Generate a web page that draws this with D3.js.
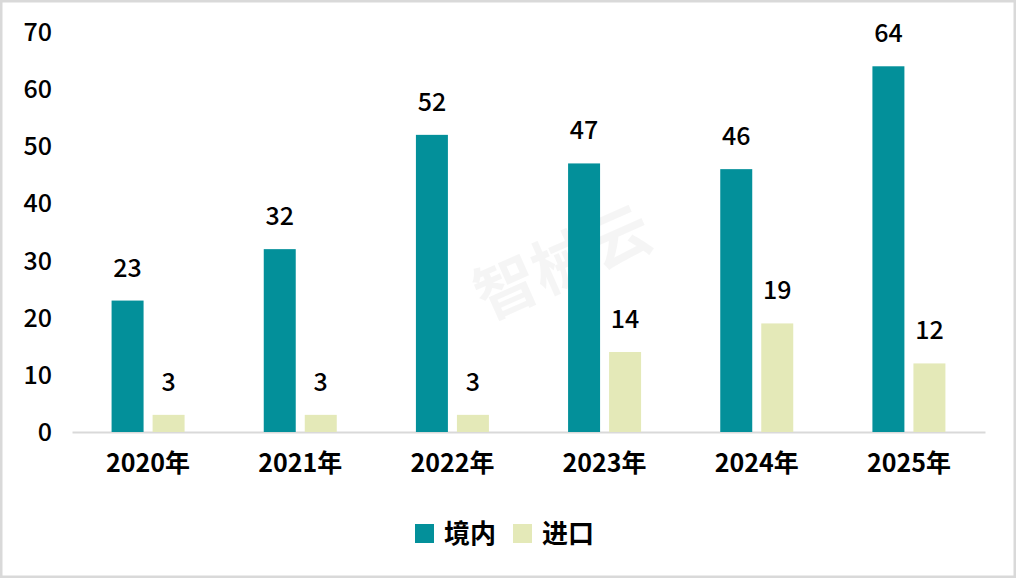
<!DOCTYPE html>
<html>
<head>
  <meta charset="utf-8"><script src="https://d3js.org/d3.v7.min.js"></script>
  <style>
    body { margin: 0; background: white; }
  </style>
</head>

<body>
  <svg id="mychart" width="1016" height="578" style="background: white; display: block"></svg>
</body>
<script>
  const years   = ["2020年", "2021年", "2022年", "2023年", "2024年", "2025年"]
  const series  = ["境内", "进口"]
  const domestic = [23, 32, 52, 47, 46, 64]
  const imported = [3, 3, 3, 14, 19, 12]
  const yTicks  = [0, 10, 20, 30, 40, 50, 60, 70]
  const colors  = ["#03909a", "#e4e9b8"]

  const width = 1016, height = 578
  const margin = ({top: 32, right: 31, bottom: 146, left: 72})

  const data = years.map((year, i) => ({year, values: [domestic[i], imported[i]]}))

  const x = d3.scaleBand()
    .domain(years)
    .range([margin.left, width - margin.right])

  const inner = d3.scaleBand()
    .domain(series)
    .range([x.bandwidth() / 2 - 36.5, x.bandwidth() / 2 + 36.5])
    .paddingInner(0.22)

  const y = d3.scaleLinear()
    .domain([0, 70])
    .range([height - margin.bottom, margin.top])

  const color = d3.scaleOrdinal().domain(series).range(colors)

  const svg = d3.select("#mychart")

  // outer frame
  svg.append("rect")
    .attr("x", 1).attr("y", 1)
    .attr("width", width - 2).attr("height", height - 2)
    .attr("fill", "none")
    .attr("stroke", "#d9d9d9")
    .attr("stroke-width", 3)

  // faint watermark
  svg.append("text")
    .attr("transform", "translate(572,283) rotate(-24)")
    .attr("text-anchor", "middle")
    .attr("font-family", "Noto Sans CJK SC")
    .attr("font-weight", "bold")
    .attr("font-size", 62)
    .attr("fill", "#000")
    .attr("fill-opacity", 0.04)
    .text("智械云")

  // y axis labels
  svg.append("g")
    .attr("transform", `translate(${margin.left - 20},0)`)
    .call(d3.axisLeft(y).tickValues(yTicks).tickSize(0).tickPadding(0))
    .call(g => g.select(".domain").remove())
    .call(g => g.selectAll("text")
      .attr("font-family", "Noto Sans CJK SC")
      .attr("font-weight", 500)
      .attr("font-size", 25)
      .attr("fill", "#000")
      .attr("dy", "0.34em"))

  // x axis
  svg.append("g")
    .attr("transform", `translate(0,${y(0)})`)
    .call(d3.axisBottom(x).tickSize(0).tickPadding(22))
    .call(g => g.select(".domain")
      .attr("stroke", "#d9d9d9")
      .attr("stroke-width", 2))
    .call(g => g.selectAll("text")
      .attr("font-family", "Noto Sans CJK SC")
      .attr("font-weight", "bold")
      .attr("font-size", 25)
      .attr("fill", "#000"))

  const group = svg.append("g")
    .selectAll("g")
    .data(data)
    .join("g")
      .attr("transform", d => `translate(${x(d.year)},0)`)

  const cells = group.selectAll("g")
    .data(d => d.values.map((v, i) => ({key: series[i], value: v})))
    .join("g")

  cells.append("rect")
    .attr("x", d => inner(d.key))
    .attr("y", d => y(d.value))
    .attr("width", inner.bandwidth())
    .attr("height", d => y(0) - y(d.value))
    .attr("fill", d => color(d.key))

  cells.append("text")
    .attr("x", d => inner(d.key) + inner.bandwidth() / 2)
    .attr("y", d => y(d.value) - 24)
    .attr("text-anchor", "middle")
    .attr("font-family", "Noto Sans CJK SC")
    .attr("font-weight", 500)
    .attr("font-size", 25)
    .attr("fill", "#000")
    .text(d => d.value)

  // legend
  const legend = svg.append("g")
    .attr("transform", `translate(415,524)`)

  const item = legend.selectAll("g")
    .data(series)
    .join("g")
      .attr("transform", (d, i) => `translate(${i * 98},0)`)

  item.append("rect")
    .attr("width", 19).attr("height", 19)
    .attr("fill", d => color(d))

  item.append("text")
    .attr("x", 29)
    .attr("y", 10)
    .attr("dy", "0.36em")
    .attr("font-family", "Noto Sans CJK SC")
    .attr("font-weight", "bold")
    .attr("font-size", 26)
    .attr("fill", "#000")
    .text(d => d)
</script>
</html>
